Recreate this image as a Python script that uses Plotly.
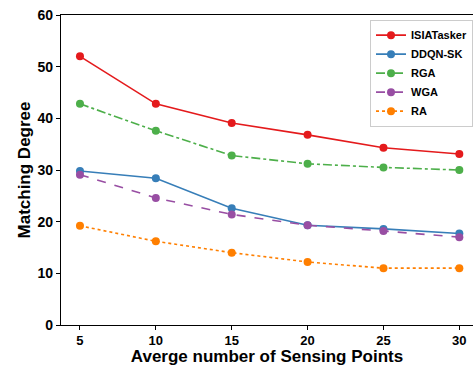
import plotly.graph_objects as go

x_points = [5, 10, 15, 20, 25, 30]
isiatasker = [52.0, 42.8, 39.1, 36.8, 34.3, 33.1]
ddqn_sk = [29.8, 28.4, 22.6, 19.3, 18.6, 17.7]
rga = [42.8, 37.6, 32.8, 31.2, 30.5, 30.0]
wga = [29.1, 24.6, 21.4, 19.3, 18.2, 17.0]
ra = [19.2, 16.2, 14.0, 12.2, 11.0, 11.0]

series = [
    ("ISIATasker", isiatasker, "#e41a1c", "solid"),
    ("DDQN-SK", ddqn_sk, "#377eb8", "solid"),
    ("RGA", rga, "#4daf4a", "dashdot"),
    ("WGA", wga, "#984ea3", "dash"),
    ("RA", ra, "#ff7f00", "dot"),
]

fig = go.Figure()
for name, vals, color, dash in series:
    fig.add_trace(go.Scatter(
        x=x_points, y=vals, name=name, mode="lines+markers",
        line=dict(color=color, width=1.6, dash=dash),
        marker=dict(color=color, size=8),
    ))

font_family = "Liberation Sans, Arial, sans-serif"
fig.update_layout(
    width=473, height=366,
    margin=dict(l=61, r=0, t=15, b=41),
    paper_bgcolor="white", plot_bgcolor="white",
    font=dict(family=font_family, color="black"),
    showlegend=True,
    legend=dict(
        x=1, y=0.985, xanchor="right", yanchor="top",
        bgcolor="white", bordercolor="#cccccc", borderwidth=1,
        font=dict(size=11, family=font_family, color="black", weight="bold"),
        itemwidth=30, tracegroupgap=0,
    ),
    xaxis=dict(
        range=[3.75, 30.9], tickvals=x_points,
        showgrid=False, zeroline=False,
        showline=True, linecolor="black", linewidth=1.2, mirror=True,
        ticks="outside", ticklen=4, tickwidth=1, tickcolor="black",
        ticklabelstandoff=-1,
        tickfont=dict(size=13, weight="bold"),
        title=dict(text="Averge number of Sensing Points",
                   font=dict(size=17, weight="bold"), standoff=2),
    ),
    yaxis=dict(
        range=[0, 60], tickvals=[0, 10, 20, 30, 40, 50, 60],
        showgrid=False, zeroline=False,
        showline=True, linecolor="black", linewidth=1.2,
        ticks="outside", ticklen=4, tickwidth=1, tickcolor="black",
        tickfont=dict(size=14, weight="bold"),
        title=dict(text="Matching Degree",
                   font=dict(size=17, weight="bold"), standoff=2),
    ),
)

fig.write_html("out.html")
